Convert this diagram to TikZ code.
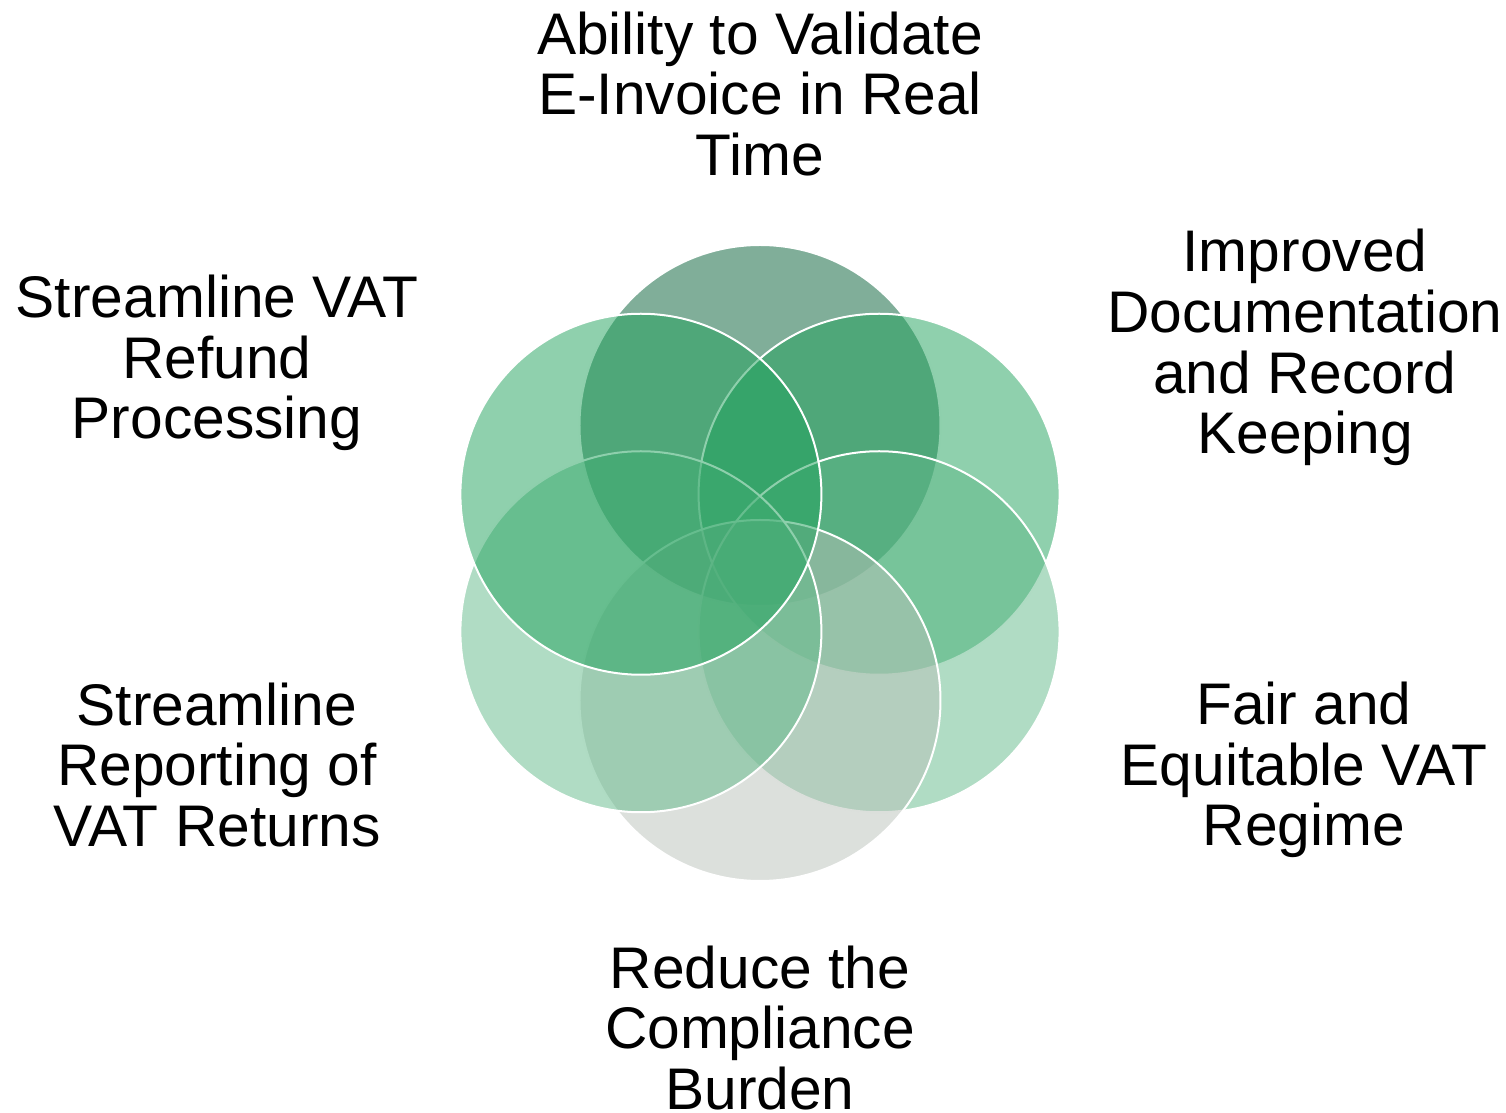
\documentclass[tikz,border=0pt]{standalone}
\usepackage{fontspec}
\setmainfont{Liberation Sans}
\definecolor{petaltop}{RGB}{1,93,51}
\definecolor{petalmid}{RGB}{31,161,91}
\definecolor{petallow}{RGB}{97,185,137}
\definecolor{petalgray}{RGB}{185,193,185}
\tikzstyle{petal}=[circle,draw=white,line width=1pt,fill opacity=0.5,minimum size=180.5pt,inner sep=0pt]
\tikzstyle{benefit}=[align=center,font=\fontsize{29.35}{30.35}\selectfont]

\begin{document}
\begin{tikzpicture}[x=0.5pt,y=0.5pt]
  \def\rad{137.5};
  \useasboundingbox (-760,-550) rectangle (746,563);

  \foreach \n/\ang/\col in {1/90/petaltop,2/30/petalmid,3/-30/petallow,4/-90/petalgray,5/-150/petallow,6/150/petalmid} {
    \node[petal,fill=\col] (petal \n) at (\ang:\rad) {};
  }

  \node[benefit] (validate) at (0,469) {Ability to Validate\\E-Invoice in Real\\Time};
  \node[benefit] (records) at (545,215.5) {Improved\\Documentation\\and Record\\Keeping};
  \node[benefit] (fair) at (544,-207) {Fair and\\Equitable VAT\\Regime};
  \node[benefit] (burden) at (0,-465) {Reduce the\\Compliance\\Burden};
  \node[benefit] (reporting) at (-543,-202) {Streamline\\Reporting of\\VAT Returns};
  \node[benefit] (refund) at (-543,200) {Streamline VAT\\Refund\\Processing};
\end{tikzpicture}
\end{document}
